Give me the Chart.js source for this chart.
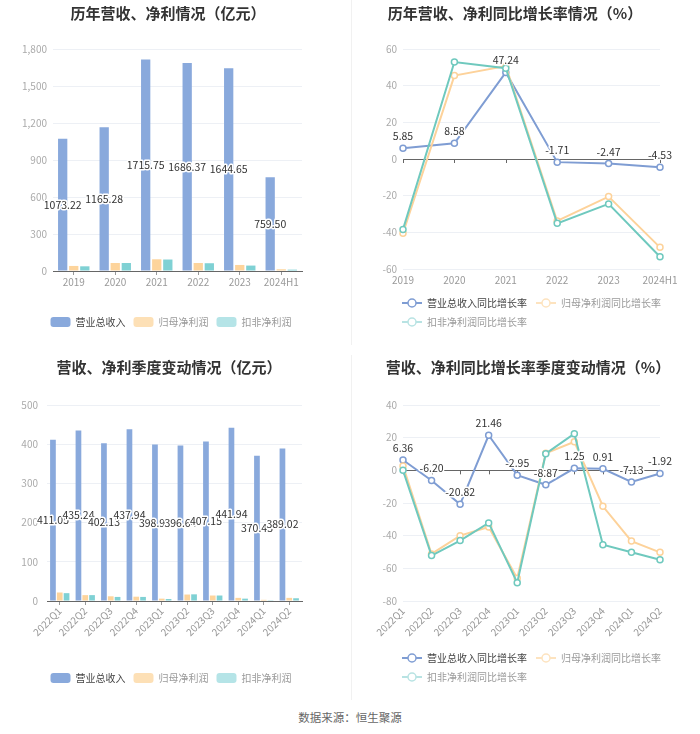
<!DOCTYPE html>
<html>
<head>
<meta charset="utf-8">
<script src="https://cdn.jsdelivr.net/npm/chart.js@4.4.1/dist/chart.umd.min.js"></script>
<style>
  html,body{margin:0;padding:0;background:#fff;}
  body{width:700px;height:734px;position:relative;overflow:hidden;font-family:"Noto Sans CJK SC","Noto Sans",sans-serif;}
  canvas{position:absolute;display:block;}
  .vline{position:absolute;left:351px;width:1px;background:#f1f1f1;}
  #footer{position:absolute;left:0;top:708px;width:700px;text-align:center;font-size:11.5px;color:#666;line-height:18px;}
</style>
</head>
<body>
<div class="vline" style="top:0;height:345px"></div>
<div class="vline" style="top:355px;height:345px"></div>
<canvas id="c1" width="350" height="345" style="left:0;top:0"></canvas>
<canvas id="c2" width="350" height="345" style="left:350px;top:0"></canvas>
<canvas id="c3" width="350" height="346" style="left:0;top:354px"></canvas>
<canvas id="c4" width="350" height="346" style="left:350px;top:354px"></canvas>
<div id="footer">数据来源：恒生聚源</div>
<script>
// ---------------- data ----------------
const yearLabels = ['2019','2020','2021','2022','2023','2024H1'];
const yearRevenue = [1073.22, 1165.28, 1715.75, 1686.37, 1644.65, 759.50];
const yearNetProfit = [41, 65, 95, 65, 49, 14];
const yearDeductedProfit = [38, 65, 93, 63, 44, 11];

const yearRevenueGrowth = [5.85, 8.58, 47.24, -1.71, -2.47, -4.53];
const yearNetProfitGrowth = [-40.5, 45.5, 50.7, -33.8, -20.5, -48.2];
const yearDeductedGrowth = [-38.4, 52.9, 49.5, -35.1, -24.5, -53.3];

const quarterLabels = ['2022Q1','2022Q2','2022Q3','2022Q4','2023Q1','2023Q2','2023Q3','2023Q4','2024Q1','2024Q2'];
const quarterRevenue = [411.05, 435.24, 402.13, 437.94, 398.93, 396.64, 407.15, 441.94, 370.43, 389.02];
const quarterNetProfit = [21.7, 15, 12, 11, 6, 16.5, 14, 8, 3, 8];
const quarterDeductedProfit = [20, 15, 10.4, 10.4, 5, 17, 14, 6, 2, 7];

const quarterRevenueGrowth = [6.36, -6.20, -20.82, 21.46, -2.95, -8.87, 1.25, 0.91, -7.13, -1.92];
const quarterNetProfitGrowth = [2.7, -51.2, -40, -34.7, -66, 10.4, 17.5, -22, -43.3, -50.2];
const quarterDeductedGrowth = [0, -52.2, -43, -32.2, -68.8, 10.2, 22.4, -45.5, -50.2, -54.7];

const barSeriesNames = ['营业总收入','归母净利润','扣非净利润'];
const lineSeriesNames = ['营业总收入同比增长率','归母净利润同比增长率','扣非净利润同比增长率'];

// ---------------- styles ----------------
const FONT = '"Noto Sans CJK SC","Noto Sans",sans-serif';
Chart.defaults.font.family = FONT;
Chart.defaults.font.size = 10;
Chart.defaults.animation = false;

const BAR_COLORS = ['#89a9dc', '#fdd49c', '#7fd1d4'];
const LINE_COLORS = ['#7f9dd3', '#fdd29a', '#6fc9be'];
const LEGEND_FILL = ['#89a9dc', '#fde0b6', '#b5e4e7'];
const LEGEND_LINE = ['#7f9dd3', '#fde3bf', '#b8e3e3'];
const LEGEND_TEXT = ['#444', '#9a9a9a', '#9a9a9a'];

function lineIcon(color){
  const c = document.createElement('canvas');
  c.width = 20; c.height = 12;
  const g = c.getContext('2d');
  g.strokeStyle = color; g.lineWidth = 2;
  g.beginPath(); g.moveTo(0,6); g.lineTo(20,6); g.stroke();
  g.beginPath(); g.arc(10,6,4,0,Math.PI*2);
  g.fillStyle = '#fff'; g.fill();
  g.lineWidth = 1.5; g.stroke();
  return c;
}

function haloText(ctx, t, x, y){
  ctx.lineWidth = 3; ctx.strokeStyle = '#fff'; ctx.lineJoin = 'round';
  ctx.strokeText(t, x, y);
  ctx.fillStyle = '#333';
  ctx.fillText(t, x, y);
}

const barLabelPlugin = {
  id: 'barLabels',
  afterDatasetsDraw(chart){
    const ctx = chart.ctx;
    const meta = chart.getDatasetMeta(0);
    const data = chart.data.datasets[0].data;
    ctx.save();
    ctx.font = '10.5px ' + FONT;
    ctx.textAlign = 'center'; ctx.textBaseline = 'middle';
    meta.data.forEach((bar, i) => {
      haloText(ctx, data[i].toFixed(2), bar.x, (bar.y + bar.base) / 2);
    });
    ctx.restore();
  }
};

const lineLabelPlugin = {
  id: 'lineLabels',
  afterDatasetsDraw(chart){
    const ctx = chart.ctx;
    const meta = chart.getDatasetMeta(0);
    const data = chart.data.datasets[0].data;
    ctx.save();
    ctx.font = '10.5px ' + FONT;
    ctx.textAlign = 'center'; ctx.textBaseline = 'middle';
    meta.data.forEach((pt, i) => {
      haloText(ctx, data[i].toFixed(2), pt.x, pt.y - 12);
    });
    ctx.restore();
  }
};

const zeroTickPlugin = {
  id: 'zeroTicks',
  beforeDatasetsDraw(chart){
    const ctx = chart.ctx;
    const xs = chart.scales.x, ys = chart.scales.y;
    const y0 = ys.getPixelForValue(0);
    ctx.save();
    ctx.strokeStyle = '#666'; ctx.lineWidth = 1;
    chart.data.labels.forEach((l, i) => {
      const x = Math.round(xs.getPixelForValue(i)) + 0.5;
      ctx.beginPath(); ctx.moveTo(x, y0); ctx.lineTo(x, y0 + 4); ctx.stroke();
    });
    ctx.restore();
  }
};

// positions the title and legend blocks (placement only)
const placePlugin = {
  id: 'place',
  afterLayout(chart, args, opts){
    const t = chart.titleBlock;
    if (t && opts.titleCenter != null) {
      const w = t.right - t.left;
      const dx = opts.titleCenter - (t.left + t.right) / 2;
      t.left += dx; t.right += dx;
    }
    const lg = chart.legend;
    if (lg) {
      const w = lg.right - lg.left;
      if (opts.legendStart) {
        const pad = lg.options.labels.padding;
        lg.left = chart.chartArea.left - pad - 1;
        lg.right = lg.left + w;
      } else if (opts.legendDx) {
        lg.left += opts.legendDx; lg.right += opts.legendDx;
      }
    }
  }
};

function makeBarChart(id, cfg){
  return new Chart(document.getElementById(id), {
    type: 'bar',
    data: {
      labels: cfg.labels,
      datasets: cfg.series.map((d, i) => ({
        label: barSeriesNames[i], data: d, backgroundColor: BAR_COLORS[i],
        barPercentage: 0.84, categoryPercentage: 0.8, borderRadius: 0
      }))
    },
    options: {
      responsive: false, devicePixelRatio: 1,
      layout: { padding: { left: 0, right: cfg.padRight, top: 0, bottom: cfg.padBottom } },
      plugins: {
        place: { titleCenter: cfg.titleCenter, legendDx: cfg.legendDx },
        title: { display: true, text: cfg.title, color: '#333', font: { size: 15, weight: 'bold' }, padding: { top: 4, bottom: cfg.titleBottom } },
        legend: {
          position: 'bottom', align: 'center',
          labels: {
            boxWidth: 20, boxHeight: 10, padding: 8, useBorderRadius: true, borderRadius: 3,
            font: { size: 10 },
            generateLabels: chart => chart.data.datasets.map((ds, i) => ({
              text: ds.label, fillStyle: LEGEND_FILL[i], strokeStyle: LEGEND_FILL[i], lineWidth: 0,
              fontColor: LEGEND_TEXT[i], hidden: false, datasetIndex: i, borderRadius: 3
            }))
          }
        },
        tooltip: { enabled: false }
      },
      scales: {
        x: {
          grid: { display: true, drawOnChartArea: false, drawTicks: true, tickLength: 4, offset: false, color: '#999' },
          border: { display: true, color: '#666', width: 1 },
          ticks: { color: '#999', font: { size: 10 }, padding: cfg.xPad, autoSkip: false, maxRotation: cfg.rot, minRotation: cfg.rot },
          afterFit: s => { s.height = cfg.xHeight; }
        },
        y: {
          min: cfg.min, max: cfg.max,
          ticks: { stepSize: cfg.step, color: '#aaa', font: { size: 10 }, padding: cfg.yPad },
          grid: { color: '#edf0f5', drawTicks: false },
          border: { display: false },
          afterFit: s => { s.width = cfg.left; }
        }
      }
    },
    plugins: [barLabelPlugin, placePlugin]
  });
}

function makeLineChart(id, cfg){
  return new Chart(document.getElementById(id), {
    type: 'line',
    data: {
      labels: cfg.labels,
      datasets: cfg.series.map((d, i) => ({
        label: lineSeriesNames[i], data: d, borderColor: LINE_COLORS[i], backgroundColor: '#fff',
        borderWidth: 2, pointRadius: 3, pointBorderWidth: 1.5, pointBackgroundColor: '#fff',
        pointBorderColor: LINE_COLORS[i], tension: 0, fill: false, order: 2 - i
      }))
    },
    options: {
      responsive: false, devicePixelRatio: 1,
      layout: { padding: { left: 0, right: cfg.padRight, top: 0, bottom: cfg.padBottom } },
      plugins: {
        place: { titleCenter: cfg.titleCenter, legendStart: true },
        title: { display: true, text: cfg.title, color: '#333', font: { size: 15, weight: 'bold' }, padding: { top: 4, bottom: cfg.titleBottom } },
        legend: {
          position: 'bottom', align: 'start',
          labels: {
            usePointStyle: true, pointStyleWidth: 20, boxHeight: 10, padding: 9,
            font: { size: 10 },
            generateLabels: chart => chart.data.datasets.map((ds, i) => ({
              text: ds.label, pointStyle: lineIcon(LEGEND_LINE[i]), fillStyle: '#fff',
              strokeStyle: LEGEND_LINE[i], lineWidth: 0, fontColor: LEGEND_TEXT[i], hidden: false, datasetIndex: i
            }))
          }
        },
        tooltip: { enabled: false }
      },
      scales: {
        x: {
          grid: { display: false, drawTicks: false },
          border: { display: false },
          ticks: { color: '#999', font: { size: 10 }, padding: cfg.xPad, autoSkip: false, maxRotation: cfg.rot, minRotation: cfg.rot },
          afterFit: s => { s.height = cfg.xHeight; }
        },
        y: {
          min: cfg.min, max: cfg.max,
          ticks: { stepSize: cfg.step, color: '#aaa', font: { size: 10 }, padding: cfg.yPad },
          grid: { drawTicks: false, color: c => (c.tick && c.tick.value === 0) ? '#666' : '#edf0f5' },
          border: { display: false },
          afterFit: s => { s.width = cfg.left; }
        }
      }
    },
    plugins: [zeroTickPlugin, lineLabelPlugin, placePlugin]
  });
}

makeBarChart('c1', {
  title: '历年营收、净利情况（亿元）', labels: yearLabels,
  series: [yearRevenue, yearNetProfit, yearDeductedProfit],
  min: 0, max: 1800, step: 300, left: 53, padRight: 48, padBottom: 8,
  titleBottom: 27, xHeight: 38, xPad: 1, rot: 0, yPad: 6, titleCenter: 168, legendDx: 20
});

makeLineChart('c2', {
  title: '历年营收、净利同比增长率情况（%）', labels: yearLabels,
  series: [yearRevenueGrowth, yearNetProfitGrowth, yearDeductedGrowth],
  min: -60, max: 60, step: 20, left: 53, padRight: 40, padBottom: 8,
  titleBottom: 27, xHeight: 20, xPad: 5, rot: 0, yPad: 6, titleCenter: 165
});

makeBarChart('c3', {
  title: '营收、净利季度变动情况（亿元）', labels: quarterLabels,
  series: [quarterRevenue, quarterNetProfit, quarterDeductedProfit],
  min: 0, max: 500, step: 100, left: 47, padRight: 48, padBottom: 7,
  titleBottom: 29, xHeight: 64, xPad: 0, rot: 45, yPad: 9, titleCenter: 169, legendDx: 20
});

makeLineChart('c4', {
  title: '营收、净利同比增长率季度变动情况（%）', labels: quarterLabels,
  series: [quarterRevenueGrowth, quarterNetProfitGrowth, quarterDeductedGrowth],
  min: -80, max: 40, step: 20, left: 53, padRight: 40, padBottom: 8,
  titleBottom: 29, xHeight: 43, xPad: 4, rot: 45, yPad: 6, titleCenter: 178
});
</script>
</body>
</html>
